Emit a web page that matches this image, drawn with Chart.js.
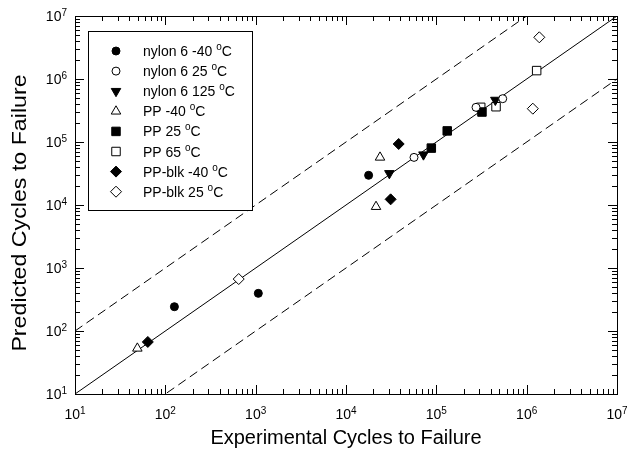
<!DOCTYPE html>
<html>
<head>
<meta charset="utf-8">
<script src="https://cdn.jsdelivr.net/npm/chart.js@4"></script>
<style>
  html, body { margin: 0; padding: 0; background: #fff; }
  canvas { display: block; }
</style>
</head>
<body>
<canvas id="chart" width="627" height="450"></canvas>
<script>
// experimental (x) vs predicted (y) cycles to failure, per material / temperature
const nylonM40Exp = [126, 1070, 17800];
const nylonM40Pred = [243, 396, 29600];
const nylon25Exp = [56600, 275000, 543000];
const nylon25Pred = [57000, 355000, 487000];
const nylon125Exp = [30200, 72000, 450000];
const nylon125Pred = [31800, 63000, 464000];
const ppM40Exp = [49, 21500, 23800];
const ppM40Pred = [53, 9400, 57000];
const pp25Exp = [88000, 132000, 320000];
const pp25Pred = [80000, 150000, 299000];
const pp65Exp = [310000, 458000, 1290000];
const pp65Pred = [355000, 363000, 1360000];
const blkM40Exp = [64, 31200, 38300];
const blkM40Pred = [67, 12300, 93000];
const blk25Exp = [649, 1170000, 1380000];
const blk25Pred = [668, 338000, 4590000];

const seriesLabels = [
  "nylon 6 -40 °C", "nylon 6 25 °C", "nylon 6 125 °C", "PP -40 °C",
  "PP 25 °C", "PP 65 °C", "PP-blk -40 °C", "PP-blk 25 °C"
];

// 1:1 line and factor-of-10 bands
const refX = [10, 1e7];
const bandFactors = [1, 10, 0.1];

// axis decades
const decadeValues = [1e1, 1e2, 1e3, 1e4, 1e5, 1e6, 1e7];
const decadeExps = ["1", "2", "3", "4", "5", "6", "7"];

function pts(xs, ys) {
  return xs.map((x, i) => ({ x: x, y: ys[i] }));
}

// marker styles: [pointStyle, radius, filled, rotation]
const markers = [
  ["circle", 4, true, 0],
  ["circle", 4, false, 0],
  ["triangle", 5.5, true, 180],
  ["triangle", 5.5, false, 0],
  ["rect", 6, true, 0],
  ["rect", 6, false, 0],
  ["rectRot", 5.5, true, 0],
  ["rectRot", 5.5, false, 0],
];
const seriesData = [
  pts(nylonM40Exp, nylonM40Pred), pts(nylon25Exp, nylon25Pred),
  pts(nylon125Exp, nylon125Pred), pts(ppM40Exp, ppM40Pred),
  pts(pp25Exp, pp25Pred), pts(pp65Exp, pp65Pred),
  pts(blkM40Exp, blkM40Pred), pts(blk25Exp, blk25Pred)
];

const datasets = [];
bandFactors.forEach((f) => {
  datasets.push({
    type: "line",
    label: "",
    data: refX.map((x) => ({ x: x, y: x * f })),
    borderColor: "#000",
    borderWidth: 1,
    borderDash: f === 1 ? [] : [9, 5],
    pointRadius: 0,
    fill: false,
    order: 10,
  });
});
seriesData.forEach((d, i) => {
  const m = markers[i];
  datasets.push({
    type: "scatter",
    label: seriesLabels[i],
    data: d,
    pointStyle: m[0],
    pointRadius: m[1],
    pointHoverRadius: m[1],
    pointRotation: m[3],
    backgroundColor: m[2] ? "#000" : "#fff",
    borderColor: "#000",
    borderWidth: 1,
    order: 1,
  });
});

const FONT = "'Liberation Sans', Arial, Helvetica, sans-serif";

function drawPow(ctx, x, y, exp, align) {
  // "10" with superscript exponent
  ctx.font = "14px " + FONT;
  const wBase = ctx.measureText("10").width;
  ctx.font = "10px " + FONT;
  const wExp = ctx.measureText(exp).width;
  const total = wBase + wExp;
  let x0 = align === "center" ? x - total / 2 : x - total;
  ctx.textAlign = "left";
  ctx.textBaseline = "alphabetic";
  ctx.font = "14px " + FONT;
  ctx.fillText("10", x0, y);
  ctx.font = "10px " + FONT;
  ctx.fillText(exp, x0 + wBase, y - 5);
}

const frameAxes = {
  id: "frameAxes",
  afterDraw(chart) {
    const ctx = chart.ctx;
    const a = chart.chartArea;
    const xs = chart.scales.x, ys = chart.scales.y;
    ctx.save();
    ctx.strokeStyle = "#000";
    ctx.fillStyle = "#000";
    ctx.lineWidth = 1;
    ctx.strokeRect(a.left + 0.5, a.top + 0.5, a.right - a.left, a.bottom - a.top);

    ctx.beginPath();
    decadeValues.forEach((v, i) => {
      for (let k = 1; k <= 9; k++) {
        const val = v * k;
        if (val > decadeValues[decadeValues.length - 1]) break;
        const len = k === 1 ? 9 : 5;
        const px = Math.round(xs.getPixelForValue(val)) + 0.5;
        ctx.moveTo(px, a.bottom); ctx.lineTo(px, a.bottom - len);
        ctx.moveTo(px, a.top); ctx.lineTo(px, a.top + len);
        const py = Math.round(ys.getPixelForValue(val)) + 0.5;
        ctx.moveTo(a.left, py); ctx.lineTo(a.left + len, py);
        ctx.moveTo(a.right, py); ctx.lineTo(a.right - len, py);
      }
    });
    ctx.stroke();

    decadeValues.forEach((v, i) => {
      drawPow(ctx, xs.getPixelForValue(v), a.bottom + 25, decadeExps[i], "center");
      drawPow(ctx, a.left - 8, ys.getPixelForValue(v) + 5, decadeExps[i], "right");
    });

    // axis titles
    ctx.font = "20px " + FONT;
    ctx.textAlign = "center";
    ctx.textBaseline = "alphabetic";
    ctx.fillText("Experimental Cycles to Failure", (a.left + a.right) / 2, 444);
    ctx.save();
    ctx.translate(26, 213);
    ctx.rotate(-Math.PI / 2);
    ctx.scale(1.16, 1);
    ctx.fillText("Predicted Cycles to Failure", 0, 0);
    ctx.restore();

    // legend box
    const bx = 88.5, by = 31.5, bw = 164, bh = 179;
    ctx.fillStyle = "#fff";
    ctx.fillRect(bx, by, bw, bh);
    ctx.strokeRect(bx, by, bw, bh);
    chart.data.datasets.forEach((ds) => {
      if (!ds.label) return;
      const i = seriesLabels.indexOf(ds.label);
      const cy = 51 + i * 20.1;
      ctx.fillStyle = ds.backgroundColor;
      ctx.strokeStyle = "#000";
      ctx.lineWidth = 1;
      Chart.helpers.drawPoint(ctx, {
        pointStyle: ds.pointStyle, radius: ds.pointRadius,
        rotation: ds.pointRotation, borderWidth: 1
      }, 116, cy);
      ctx.fillStyle = "#000";
      const parts = ds.label.split("°");
      ctx.textAlign = "left";
      ctx.font = "14px " + FONT;
      let tx = 143;
      const base = cy + 5;
      ctx.fillText(parts[0], tx, base);
      tx += ctx.measureText(parts[0]).width;
      ctx.font = "10px " + FONT;
      ctx.fillText("o", tx, base - 6);
      tx += ctx.measureText("o").width;
      ctx.font = "14px " + FONT;
      ctx.fillText(parts[1], tx, base);
    });
    ctx.restore();
  }
};

new Chart(document.getElementById("chart").getContext("2d"), {
  data: { datasets: datasets },
  options: {
    responsive: false,
    devicePixelRatio: 1,
    animation: false,
    layout: { padding: { left: 75, top: 16, right: 10, bottom: 56 } },
    scales: {
      x: { type: "logarithmic", min: 10, max: 1e7, display: false },
      y: { type: "logarithmic", min: 10, max: 1e7, display: false },
    },
    plugins: {
      legend: { display: false },
      tooltip: { enabled: false },
    },
  },
  plugins: [frameAxes],
});
</script>
</body>
</html>
